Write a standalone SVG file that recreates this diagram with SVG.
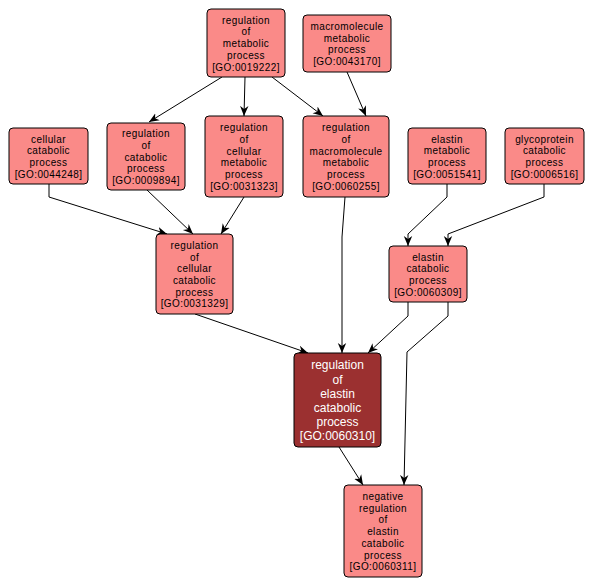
<svg xmlns="http://www.w3.org/2000/svg" width="594" height="588" viewBox="0 0 594 588">
<defs>
<style>
.n rect{fill:#fa8a88;stroke:#000;stroke-width:1}
.n text{font-family:"Liberation Sans",Arial,sans-serif;font-size:10px;letter-spacing:0.4px;fill:#000;text-anchor:middle}
.d rect{fill:#9b3030;stroke:#000;stroke-width:1}
.d text{font-family:"Liberation Sans",Arial,sans-serif;font-size:12px;fill:#fff;text-anchor:middle}
.e{fill:none;stroke:#000;stroke-width:1;marker-end:url(#ah)}
</style>
<marker id="ah" markerUnits="userSpaceOnUse" markerWidth="10" markerHeight="10" refX="10" refY="5" orient="auto">
<path d="M0,0.8 L10,5 L0,9.2 L3,5 z" fill="#000"/>
</marker>
</defs>
<rect width="594" height="588" fill="#fff"/>
<g id="edges">
<polyline class="e" points="222,77 149,122"/>
<polyline class="e" points="245,77 244,116"/>
<polyline class="e" points="272,77 323,116"/>
<polyline class="e" points="347,72 366,116"/>
<polyline class="e" points="49,184 49,197 167,234"/>
<polyline class="e" points="147,190 193,234"/>
<polyline class="e" points="244,197 221,234"/>
<polyline class="e" points="345,197 342,237 342,353"/>
<polyline class="e" points="447,184 447,197 408,234 408,246"/>
<polyline class="e" points="544,184 544,197 448,234 448,246"/>
<polyline class="e" points="195,314 308,353"/>
<polyline class="e" points="408,302 408,316 368,353"/>
<polyline class="e" points="448,302 448,316 407,352 404,485"/>
<polyline class="e" points="339,447 363,485"/>
</g>
<g id="GO0019222" class="n"><rect x="207" y="9" width="78" height="68" rx="4"/>
<text x="246" y="23.7">regulation</text><text x="246" y="35.4">of</text><text x="246" y="47.1">metabolic</text><text x="246" y="58.8">process</text><text x="246" y="70.5">[GO:0019222]</text></g>
<g id="GO0043170" class="n"><rect x="303" y="15" width="88" height="57" rx="4"/>
<text x="347" y="30">macromolecule</text><text x="347" y="41.7">metabolic</text><text x="347" y="53.4">process</text><text x="347" y="65.1">[GO:0043170]</text></g>
<g id="GO0044248" class="n"><rect x="9" y="128" width="79" height="56" rx="4"/>
<text x="48.5" y="142.5">cellular</text><text x="48.5" y="154.2">catabolic</text><text x="48.5" y="165.9">process</text><text x="48.5" y="177.6">[GO:0044248]</text></g>
<g id="GO0009894" class="n"><rect x="107" y="123" width="78" height="67" rx="4"/>
<text x="146" y="137.2">regulation</text><text x="146" y="148.9">of</text><text x="146" y="160.6">catabolic</text><text x="146" y="172.3">process</text><text x="146" y="184">[GO:0009894]</text></g>
<g id="GO0031323" class="n"><rect x="205" y="116" width="78" height="81" rx="4"/>
<text x="244" y="131.3">regulation</text><text x="244" y="143">of</text><text x="244" y="154.7">cellular</text><text x="244" y="166.4">metabolic</text><text x="244" y="178.1">process</text><text x="244" y="189.8">[GO:0031323]</text></g>
<g id="GO0060255" class="n"><rect x="303" y="116" width="86" height="81" rx="4"/>
<text x="346" y="131.3">regulation</text><text x="346" y="143">of</text><text x="346" y="154.7">macromolecule</text><text x="346" y="166.4">metabolic</text><text x="346" y="178.1">process</text><text x="346" y="189.8">[GO:0060255]</text></g>
<g id="GO0051541" class="n"><rect x="408" y="128" width="78" height="56" rx="4"/>
<text x="447" y="142.5">elastin</text><text x="447" y="154.2">metabolic</text><text x="447" y="165.9">process</text><text x="447" y="177.6">[GO:0051541]</text></g>
<g id="GO0006516" class="n"><rect x="505" y="128" width="79" height="56" rx="4"/>
<text x="544.5" y="142.5">glycoprotein</text><text x="544.5" y="154.2">catabolic</text><text x="544.5" y="165.9">process</text><text x="544.5" y="177.6">[GO:0006516]</text></g>
<g id="GO0031329" class="n"><rect x="156" y="234" width="77" height="80" rx="4"/>
<text x="194.5" y="248.9">regulation</text><text x="194.5" y="260.6">of</text><text x="194.5" y="272.3">cellular</text><text x="194.5" y="284">catabolic</text><text x="194.5" y="295.7">process</text><text x="194.5" y="307.4">[GO:0031329]</text></g>
<g id="GO0060309" class="n"><rect x="389" y="246" width="78" height="56" rx="4"/>
<text x="428" y="260.6">elastin</text><text x="428" y="272.3">catabolic</text><text x="428" y="284">process</text><text x="428" y="295.7">[GO:0060309]</text></g>
<g id="GO0060310" class="d"><rect x="294" y="353" width="87" height="94" rx="4"/>
<text x="337.5" y="369.3">regulation</text><text x="337.5" y="383.5">of</text><text x="337.5" y="397.7">elastin</text><text x="337.5" y="411.9">catabolic</text><text x="337.5" y="426.1">process</text><text x="337.5" y="440.3">[GO:0060310]</text></g>
<g id="GO0060311" class="n"><rect x="344" y="485" width="78" height="92" rx="4"/>
<text x="383" y="500">negative</text><text x="383" y="511.7">regulation</text><text x="383" y="523.4">of</text><text x="383" y="535.1">elastin</text><text x="383" y="546.8">catabolic</text><text x="383" y="558.5">process</text><text x="383" y="570.2">[GO:0060311]</text></g>
</svg>
